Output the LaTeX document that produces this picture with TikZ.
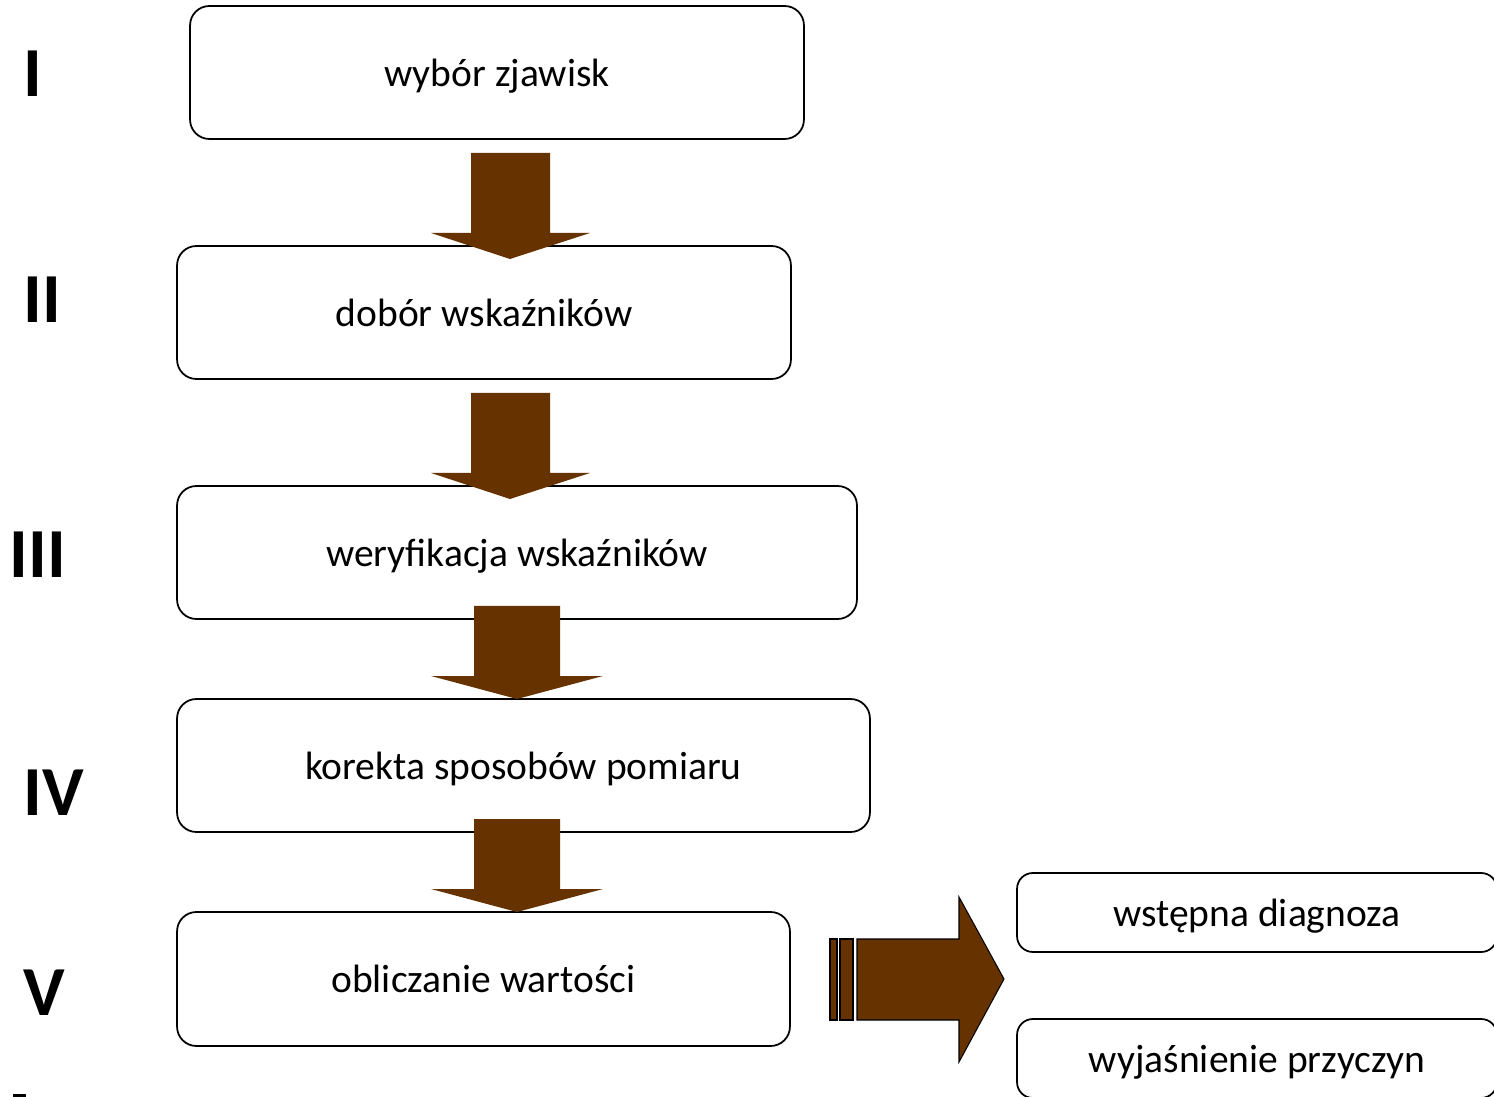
\documentclass[tikz,border=0pt]{standalone}
\usepackage{fontspec}
\setmainfont{Carlito}
\usepackage{tikz}
\usetikzlibrary{positioning}
\usepackage{xcolor}
\definecolor{arrowBrown}{RGB}{102, 51, 0}

\begin{document}
\begin{tikzpicture}[x=0.02cm, y=-0.02cm,
  font=\fontsize{22.5}{27}\selectfont,
  stepbox/.style={draw, line width=1pt, rounded corners=11pt,
    minimum height=2.66cm, inner sep=0pt,
    text height=1.8em, text depth=0.25em},
  sidebox/.style={draw, line width=1pt, rounded corners=9pt,
    minimum height=1.58cm, minimum width=9.6cm, inner sep=0pt,
    text height=1.8em, text depth=0.25em},
  numlabel/.style={font=\fontsize{40}{48}\selectfont\bfseries, inner sep=0pt},
  blockarrow/.style={fill=arrowBrown},
  stripearrow/.style={fill=arrowBrown, draw=black, line width=0.6pt}]
  \useasboundingbox (0,0) rectangle (1494,1097);

  % etapy
  \node[stepbox, minimum width=12.28cm] (wybor) at (497,72.5) {wybór zjawisk};
  \node[stepbox, minimum width=12.28cm] (dobor) at (484,312.5) {dobór wskaźników};
  \node[stepbox, minimum width=13.6cm] (weryf) at (517,552.5) {weryfikacja wskaźników};
  \node[stepbox, minimum width=13.86cm] (korekta) at (523.5,765.5) {korekta sposobów pomiaru};
  \node[stepbox, minimum width=12.26cm, minimum height=2.68cm] (oblicz) at (483.5,979) {obliczanie wartości};

  % numery etapow
  \node[numlabel] (n1) at (33,74) {I};
  \node[numlabel] (n2) at (42,300) {II};
  \node[numlabel] (n3) at (38,555) {III};
  \node[numlabel] (n4) at (54,793) {IV};
  \node[numlabel] (n5) at (44,993) {V};

  % wyniki
  \node[sidebox] (diag) at (1257,912.5) {wstępna diagnoza};
  \node[sidebox] (przycz) at (1257,1058.5) {wyjaśnienie przyczyn};

  % strzalki w dol
  \foreach \xa/\xb/\xc/\xd/\xm/\ya/\yb/\yc in {
      471/550/431/590/510/153/233/259,
      471/550/431/590/510/393/473/499,
      474/560/431/603/517/606/676/699,
      474/560/431/603/517/819/889/912}
    \fill[blockarrow] (\xa,\ya) -- (\xb,\ya) -- (\xb,\yb) -- (\xd,\yb)
      -- (\xm,\yc) -- (\xc,\yb) -- (\xa,\yb) -- cycle;

  % strzalka w prawo
  \filldraw[stripearrow] (830,939) rectangle (837,1020);
  \filldraw[stripearrow] (840,939) rectangle (853,1020);
  \filldraw[stripearrow] (857,939) -- (959,939) -- (959,897) -- (1004,979)
    -- (959,1062) -- (959,1020) -- (857,1020) -- cycle;

  \fill (13,1094) rectangle (26,1097);
\end{tikzpicture}
\end{document}
